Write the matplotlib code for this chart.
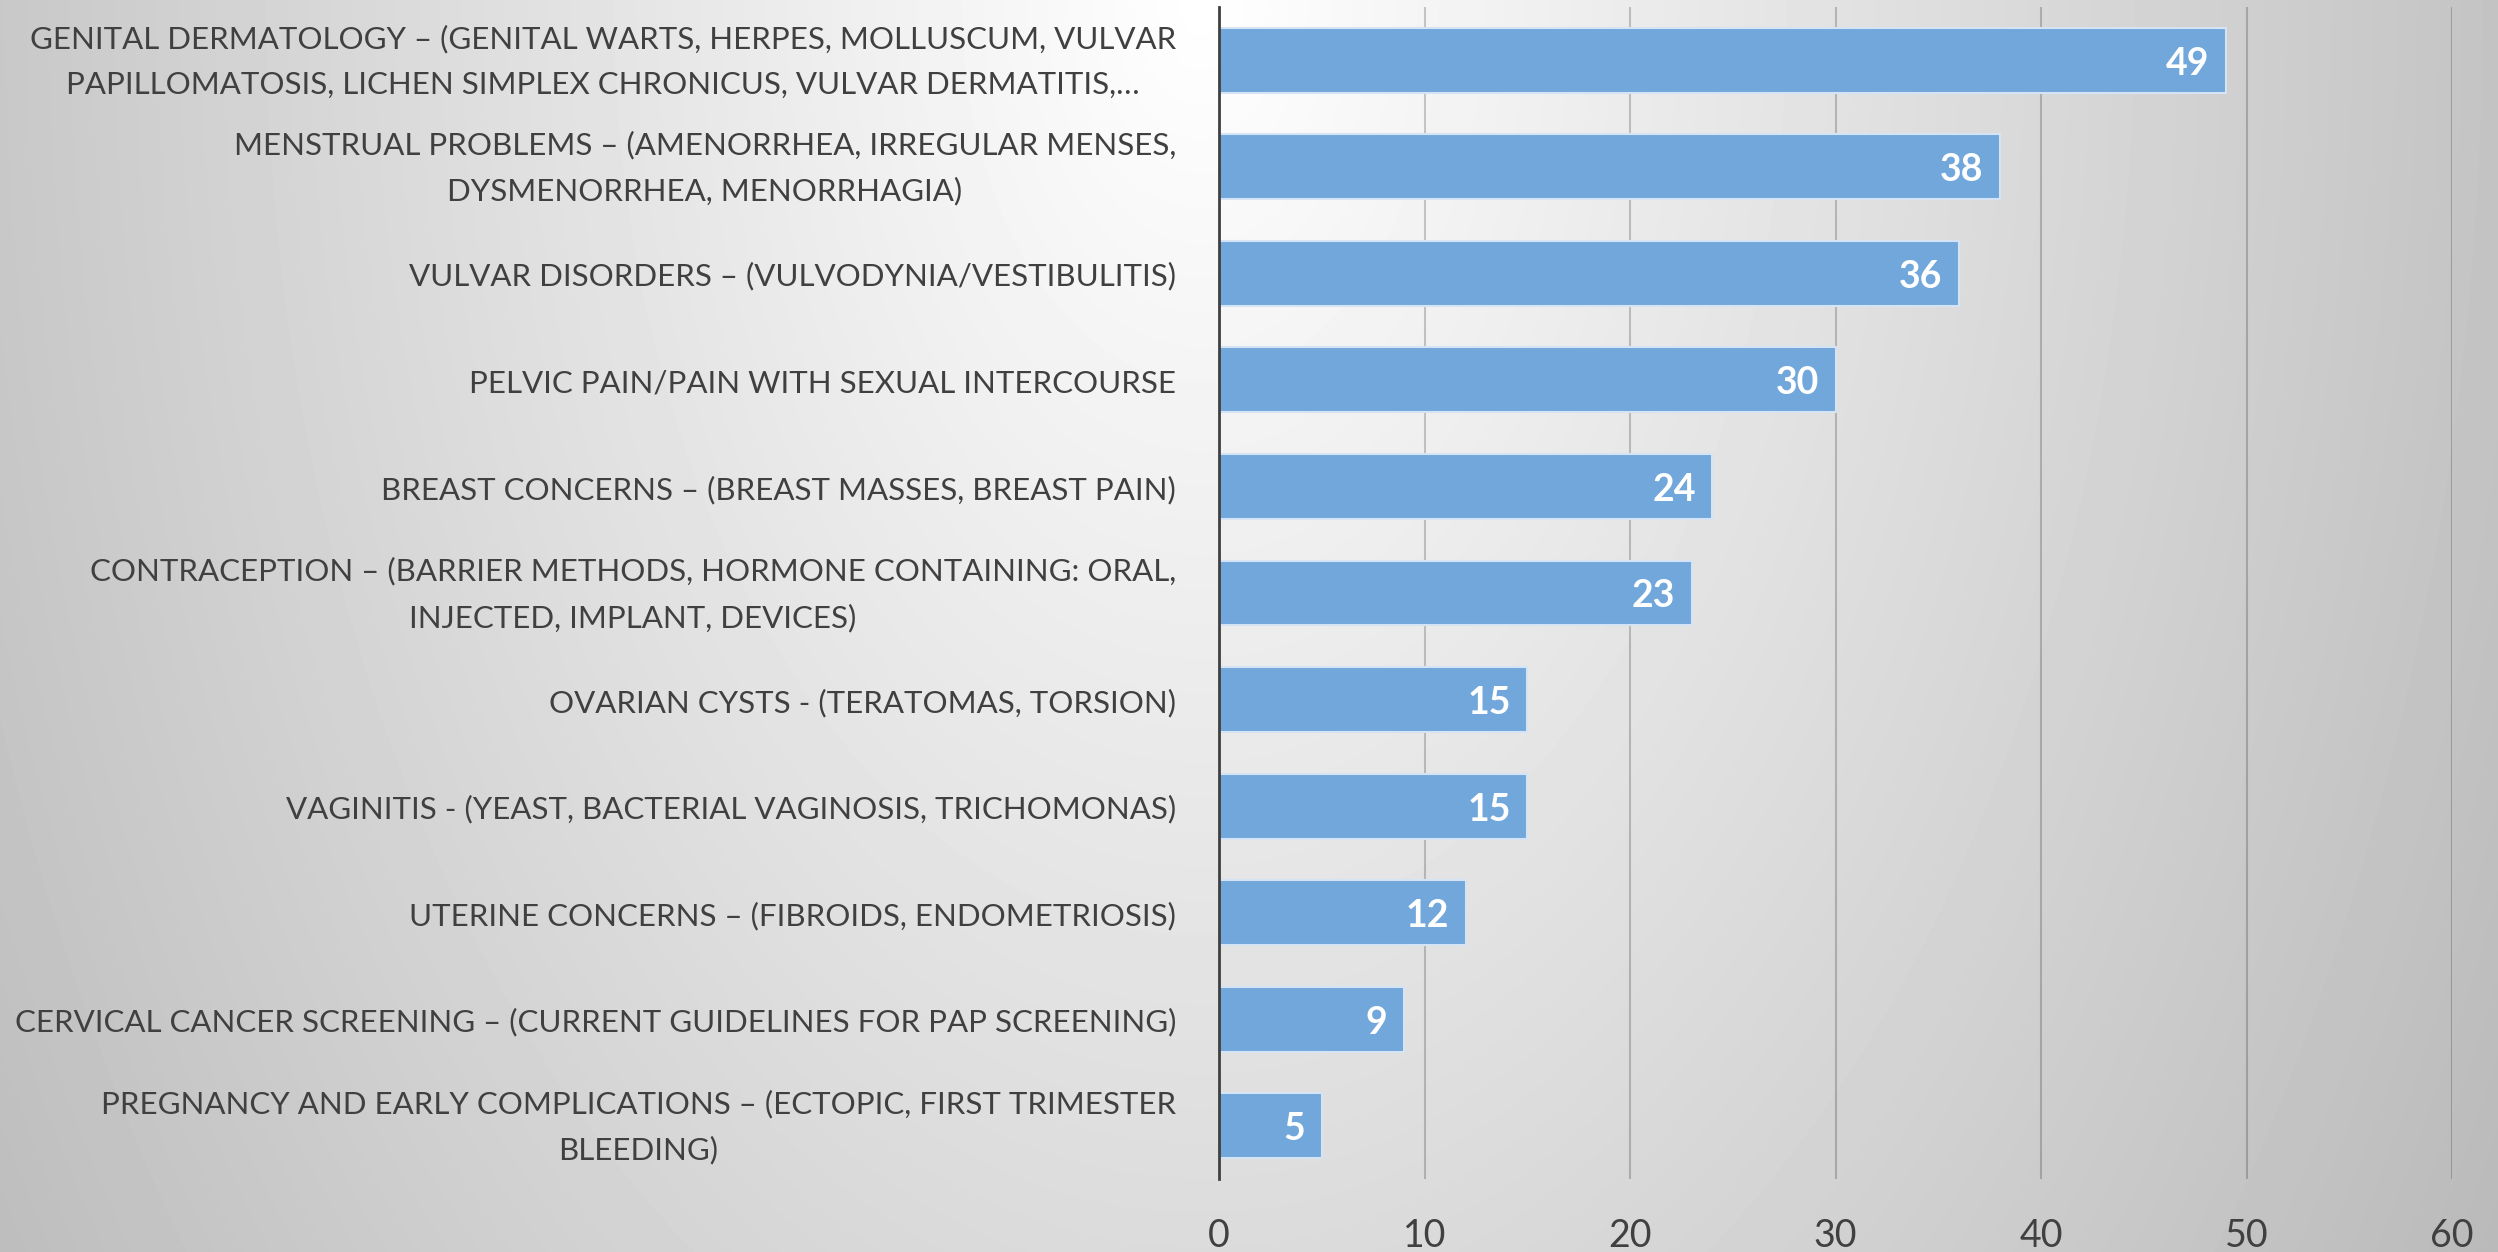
import numpy as np
import matplotlib
matplotlib.use("Agg")
import matplotlib.pyplot as plt
import matplotlib.transforms as mtrans

categories = [
    "GENITAL DERMATOLOGY – (GENITAL WARTS, HERPES, MOLLUSCUM, VULVAR\nPAPILLOMATOSIS, LICHEN SIMPLEX CHRONICUS, VULVAR DERMATITIS,…",
    "MENSTRUAL PROBLEMS – (AMENORRHEA, IRREGULAR MENSES,\nDYSMENORRHEA, MENORRHAGIA)",
    "VULVAR DISORDERS – (VULVODYNIA/VESTIBULITIS)",
    "PELVIC PAIN/PAIN WITH SEXUAL INTERCOURSE",
    "BREAST CONCERNS – (BREAST MASSES, BREAST PAIN)",
    "CONTRACEPTION – (BARRIER METHODS, HORMONE CONTAINING: ORAL,\nINJECTED, IMPLANT, DEVICES)",
    "OVARIAN CYSTS - (TERATOMAS, TORSION)",
    "VAGINITIS - (YEAST, BACTERIAL VAGINOSIS, TRICHOMONAS)",
    "UTERINE CONCERNS – (FIBROIDS, ENDOMETRIOSIS)",
    "CERVICAL CANCER SCREENING – (CURRENT GUIDELINES FOR PAP SCREENING)",
    "PREGNANCY AND EARLY COMPLICATIONS – (ECTOPIC, FIRST TRIMESTER\nBLEEDING)",
]
values = [49, 38, 36, 30, 24, 23, 15, 15, 12, 9, 5]
xticks = [0, 10, 20, 30, 40, 50, 60]

plt.rcParams["font.family"] = ["Lato", "DejaVu Sans"]

W, H = 2498, 1252
fig = plt.figure(figsize=(W / 100, H / 100), dpi=100)

# --- background: soft elliptical gradient, light at top centre ---
yy, xx = np.mgrid[0:H, 0:W]
r = np.sqrt(((xx - 1200) / 1200.0) ** 2 + (yy / 1912.0) ** 2)
shade = np.clip(255 - 55 * r, 180, 255) / 255.0
bg = fig.add_axes([0, 0, 1, 1], zorder=-10)
bg.imshow(shade, cmap="gray", vmin=0, vmax=1, aspect="auto", interpolation="bilinear")
bg.axis("off")

ax = fig.add_axes([1219 / W, 1 - 1179 / H, (2452 - 1219) / W, (1179 - 7) / H])
ax.patch.set_alpha(0)

y = np.arange(len(values))
bars = ax.barh(y, values, height=0.61, color="#71a7da", edgecolor="#d4e4f4",
               linewidth=1.5, zorder=3)

# value labels inside the bar ends, nudged down a touch (digits have no descenders)
val_tr = ax.transData + mtrans.ScaledTranslation(0, -2.5 / 72, fig.dpi_scale_trans)
for b, v in zip(bars, values):
    ax.text(b.get_width() - 0.8, b.get_y() + b.get_height() / 2, str(v),
            transform=val_tr, ha="right", va="center", color="white", fontsize=27,
            fontweight="bold", zorder=4)

ax.set_xlim(0, 60)
ax.set_ylim(len(values) - 0.5, -0.5)
ax.set_xticks(xticks)
ax.set_xticklabels([str(t) for t in xticks], fontsize=27, color="#404040")
ax.set_yticks(y)
ax.set_yticklabels([])

# category labels, drawn by hand so two-line ones can sit centred on the bar
for yi, lab in zip(y, categories):
    dy = -1 if "\n" in lab else -2.3
    tr = ax.get_yaxis_transform() + mtrans.ScaledTranslation(-31 / 72, dy / 72, fig.dpi_scale_trans)
    ax.text(0, yi, lab, transform=tr, ha="right", va="center", multialignment="center",
            linespacing=1.75, fontsize=22.5, color="#404040")

ax.tick_params(axis="x", length=0, pad=28)
ax.tick_params(axis="y", length=0)

ax.grid(axis="x", color="black", alpha=0.2, linewidth=1.5, zorder=0)
ax.set_axisbelow(True)
for s in ["top", "right", "bottom"]:
    ax.spines[s].set_visible(False)
ax.spines["left"].set_color("#404040")
ax.spines["left"].set_linewidth(2)
ax.spines["left"].set_zorder(5)

fig.savefig("out.png", dpi=100)
